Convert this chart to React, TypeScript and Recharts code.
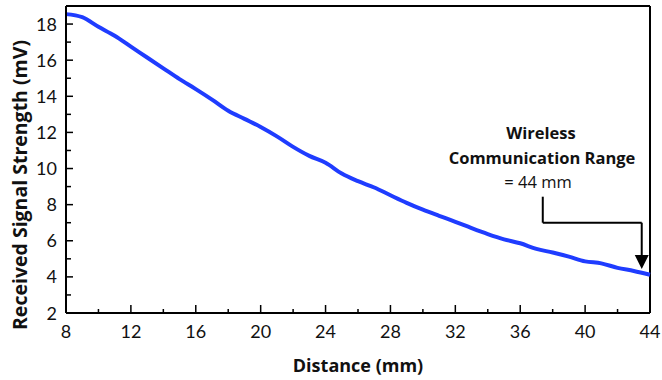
import React from 'react';
import {
  LineChart,
  Line,
  XAxis,
  YAxis,
  ReferenceLine,
  ReferenceDot,
  Customized,
} from 'recharts';

// values, one per mm
const distance = [
  8, 9, 10, 11, 12, 13, 14, 15, 16, 17, 18, 19, 20, 21, 22, 23, 24, 25, 26,
  27, 28, 29, 30, 31, 32, 33, 34, 35, 36, 37, 38, 39, 40, 41, 42, 43, 44,
];
const signal = [
  18.55, 18.38, 17.85, 17.35, 16.75, 16.15, 15.55, 14.95, 14.4, 13.82, 13.2, 12.75,
  12.3, 11.78, 11.2, 10.7, 10.32, 9.72, 9.3, 8.95, 8.52, 8.1, 7.72, 7.38, 7.05,
  6.7, 6.37, 6.08, 5.86, 5.55, 5.35, 5.12, 4.86, 4.75, 4.5, 4.33, 4.12,
];

const xTicks = [8, 10, 12, 14, 16, 18, 20, 22, 24, 26, 28, 30, 32, 34, 36, 38, 40, 42, 44];
const yTicks = [2, 3, 4, 5, 6, 7, 8, 9, 10, 11, 12, 13, 14, 15, 16, 17, 18];

const annotationLines = ['Wireless', 'Communication Range', '= 44 mm'];

const data = distance.map((d, i) => ({ distance: d, signal: signal[i] }));

const TICK_FONT = 'Lato, "Open Sans", sans-serif';
const TITLE_FONT = '"Open Sans", Lato, sans-serif';

const renderYTick = (props: any) => {
  const { x, y, payload } = props;
  const major = payload.value % 2 === 0;
  return (
    <g>
      <line x1={x} x2={x + (major ? 7 : 5)} y1={y} y2={y} stroke="#000" strokeWidth={1.5} />
      {major && (
        <text x={x - 9} y={y} dy={6.5} textAnchor="end" fontSize={18} fill="#111" fontFamily={TICK_FONT}>
          {payload.value}
        </text>
      )}
    </g>
  );
};

const renderXTick = (props: any) => {
  const { x, y, payload } = props;
  const major = payload.value % 4 === 0;
  return (
    <g>
      <line x1={x} x2={x} y1={y} y2={y - (major ? 8 : 4)} stroke="#000" strokeWidth={1.5} />
      {major && (
        <text x={x} y={y + 25} textAnchor="middle" fontSize={18} fill="#111" fontFamily={TICK_FONT}>
          {payload.value}
        </text>
      )}
    </g>
  );
};

const ArrowHead = (props: any) => {
  const { cx, cy } = props;
  return <polygon points={`${cx},${cy} ${cx - 7},${cy - 14} ${cx + 7},${cy - 14}`} fill="#000" />;
};

const Titles = () => (
  <g fontFamily={TITLE_FONT} fill="#111" fontWeight="bold">
    <text x={358} y={372} textAnchor="middle" fontSize={18}>
      Distance (mm)
    </text>
    <text x={27} y={185} transform="rotate(-90 27 185)" textAnchor="middle" fontSize={19.5}>
      Received Signal Strength (mV)
    </text>
    <text x={541} y={139} textAnchor="middle" fontSize={16.5}>
      {annotationLines[0]}
    </text>
    <text x={542} y={164} textAnchor="middle" fontSize={16.5}>
      {annotationLines[1]}
    </text>
    <text x={538} y={188} textAnchor="middle" fontSize={16.5} fontWeight="normal">
      {annotationLines[2]}
    </text>
  </g>
);

export default function App() {
  return (
    <div style={{ position: 'absolute', left: 0, top: 0, width: 662, height: 380, background: '#fff' }}>
      <LineChart
        width={662}
        height={380}
        data={data}
        margin={{ top: 6, right: 12, bottom: 7, left: 6 }}
      >
        <XAxis
          dataKey="distance"
          type="number"
          domain={[8, 44]}
          ticks={xTicks}
          interval={0}
          height={60}
          tickSize={0}
          tickMargin={0}
          tick={renderXTick}
          axisLine={{ stroke: '#000', strokeWidth: 2 }}
        />
        <YAxis
          type="number"
          domain={[2, 19]}
          ticks={yTicks}
          interval={0}
          width={60}
          tickSize={0}
          tickMargin={0}
          tick={renderYTick}
          axisLine={{ stroke: '#000', strokeWidth: 2 }}
        />
        <ReferenceLine y={19} stroke="#000" strokeWidth={2} />
        <ReferenceLine x={44} stroke="#000" strokeWidth={2} />
        <Line
          dataKey="signal"
          type="monotone"
          stroke="#1f3cff"
          strokeWidth={4}
          dot={false}
          isAnimationActive={false}
        />
        <ReferenceLine segment={[{ x: 37.39, y: 8.44 }, { x: 37.39, y: 7.0 }]} stroke="#000" strokeWidth={2} />
        <ReferenceLine segment={[{ x: 37.39, y: 7.0 }, { x: 43.49, y: 7.0 }]} stroke="#000" strokeWidth={2} />
        <ReferenceLine segment={[{ x: 43.49, y: 7.0 }, { x: 43.49, y: 5.1 }]} stroke="#000" strokeWidth={2} />
        <ReferenceDot x={43.49} y={4.44} r={0} shape={<ArrowHead />} />
        <Customized component={Titles} />
      </LineChart>
    </div>
  );
}
